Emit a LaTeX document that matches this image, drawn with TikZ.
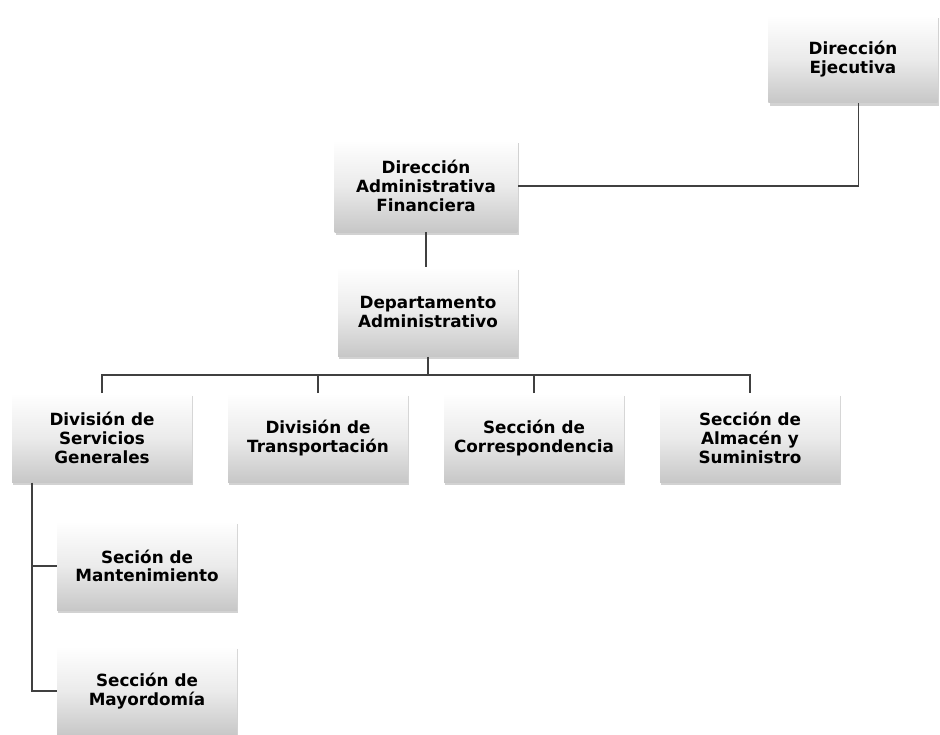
\documentclass[tikz,border=0pt]{standalone}
\usepackage{fontspec}
\setmainfont{DejaVu Sans}
\usetikzlibrary{shadows}

\tikzset{
  unit/.style={draw=none, top color=white, bottom color=black!22, middle color=white!92!black,
    drop shadow={shadow xshift=1pt, shadow yshift=-2pt, opacity=.35},
    minimum width=135pt, minimum height=67pt, align=center,
    font=\fontsize{12.6}{14}\selectfont\bfseries, inner sep=2pt},
  link/.style={draw=black!75, line width=1pt}
}

\begin{document}
\begin{tikzpicture}[x=0.75pt, y=-0.75pt]
  \useasboundingbox[fill=white] (0,0) rectangle (940,735);

  % Top levels
  \node[unit, minimum width=127pt, minimum height=66pt] (de) at (853,59) {Dirección\\Ejecutiva};
  \node[unit, minimum width=137pt, minimum height=69pt] (daf) at (426,186) {Dirección\\Administrativa\\Financiera};
  \node[unit] (da) at (428,312) {Departamento\\Administrativo};

  % Divisions and sections
  \node[unit] (dsg) at (102,438) {División de\\Servicios\\Generales};
  \node[unit] (dt) at (318,438) {División de\\Transportación};
  \node[unit] (sc) at (534,438) {Sección de\\Correspondencia};
  \node[unit] (sas) at (750,438) {Sección de\\Almacén y\\Suministro};

  % Under Servicios Generales
  \node[unit] (sm) at (147,566) {Seción de\\Mantenimiento};
  \node[unit] (smy) at (147,691) {Sección de\\Mayordomía};

  % Lines
  \coordinate (bus) at (428,375);
  \coordinate (trunk) at ([xshift=-52.5pt]dsg.south);

  \draw[link] ([xshift=4pt]de.south) |- (daf.east);
  \draw[link] (daf.south) -- (daf.south |- da.north);
  \draw[link] (da.south) -- (bus);
  \draw[link] (dsg.north) |- (bus) -| (sas.north);
  \foreach \n in {dt, sc}
    \draw[link] (\n.north) -- (\n.north |- bus);
  \draw[link] (trunk) |- (sm.west);
  \draw[link] (trunk) |- (smy.west);
\end{tikzpicture}
\end{document}
